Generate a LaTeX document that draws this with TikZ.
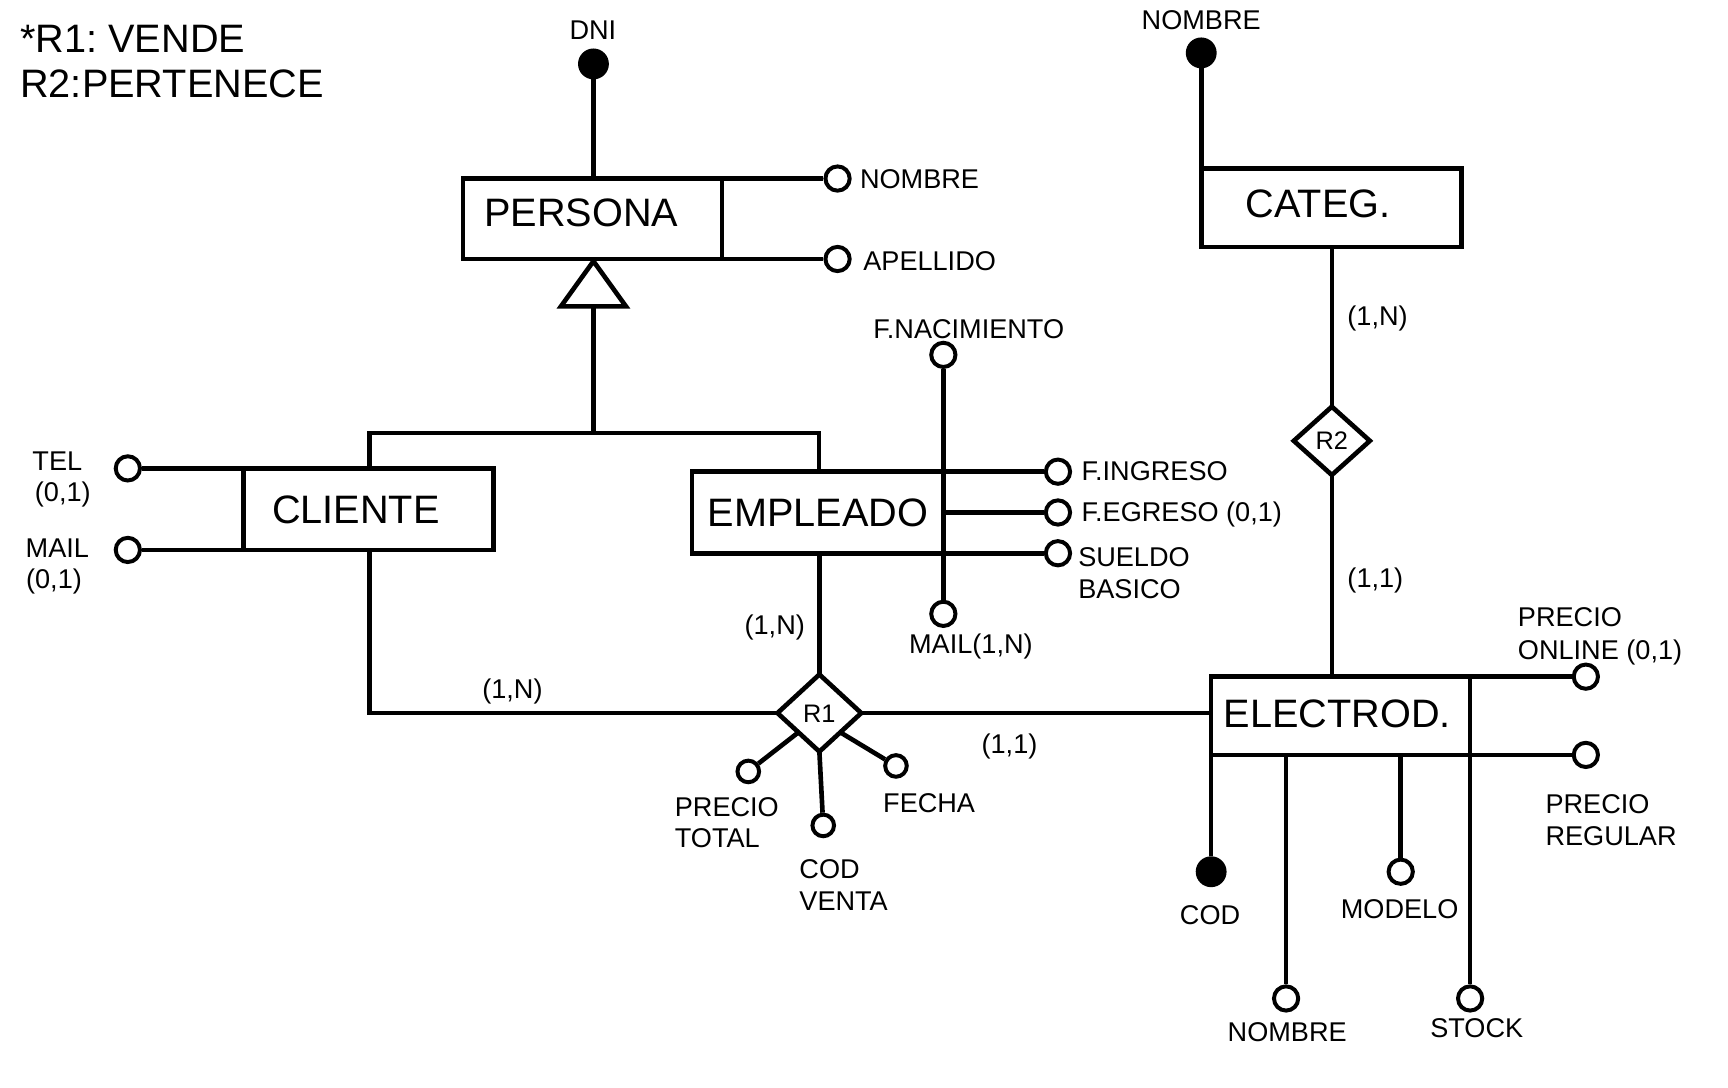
\documentclass[tikz,border=0pt]{standalone}
\usepackage{fontspec}
\setmainfont{Liberation Sans}
\usetikzlibrary{shapes.geometric}
\frenchspacing
\begin{document}
\begin{tikzpicture}[x=0.5pt,y=-0.5pt,
 ln/.style={line width=2.1pt},
 box/.style={draw,line width=2.1pt,rectangle,inner sep=0pt,outer sep=0pt},
 att/.style={circle,draw,fill=white,line width=1.8pt,inner sep=0pt,minimum size=11pt},
 atts/.style={att,minimum size=9.8pt},
 keyd/.style={circle,draw,fill=black,line width=1pt,inner sep=0pt,minimum size=13pt},
 rel/.style={diamond,draw,fill=white,line width=2.1pt,inner sep=0pt,outer sep=0pt},
 lbl/.style={inner sep=0pt,font=\fontsize{12.3pt}{14pt}\selectfont,text height=8.8pt,text depth=0pt},
 big/.style={inner sep=0pt,font=\fontsize{18pt}{21pt}\selectfont,text height=12.9pt,text depth=0pt},
 rlbl/.style={font=\fontsize{11.5pt}{13pt}\selectfont,text height=8.2pt,text depth=0pt}
]
\useasboundingbox[fill=white] (0,0) rectangle (1568,987);

% legend
\node[big,anchor=west] (leg1) at (18,35) {*R1: VENDE};
\node[big,anchor=west] (leg2) at (18,76) {R2:PERTENECE};

% entities
\node[box,minimum width=117.5pt,minimum height=36.5pt] (persona) at (537.5,198.5) {};
\node[big,anchor=west] (personaT) at (439,193) {PERSONA};
\node[box,minimum width=113.5pt,minimum height=37pt] (cliente) at (334.5,462) {};
\node[big,anchor=west] (clienteT) at (246.5,462) {CLIENTE};
\node[box,minimum width=114pt,minimum height=37pt] (empleado) at (742,465) {};
\node[big,anchor=west] (empleadoT) at (642,465) {EMPLEADO};
\node[box,minimum width=118pt,minimum height=35.5pt] (categ) at (1208,188.5) {};
\node[big,anchor=west] (categT) at (1130,184) {CATEG.};
\node[box,minimum width=117.5pt,minimum height=35.5pt] (electrod) at (1216.5,649.5) {};
\node[big,anchor=west] (electrodT) at (1110,647) {ELECTROD.};

% relationships
\node[rel,minimum width=38pt,minimum height=35pt,rlbl] (r1) at (743.5,647) {R1};
\node[rel,minimum width=34.5pt,minimum height=31pt,rlbl] (r2) at (1208.5,400) {R2};

% attributes
\node[keyd] (dni) at (538.5,58) {};
\node[att] (pnom) at (760,162) {};
\node[att] (pape) at (760,235) {};
\node[att] (tel) at (116,425) {};
\node[att] (cmail) at (116,499) {};
\node[att] (fnac) at (856,322) {};
\node[att] (emai) at (856,557) {};
\node[att] (fing) at (960,428) {};
\node[att] (fegr) at (960,465) {};
\node[att] (sueldo) at (960,502) {};
\node[atts] (ptot) at (679,700) {};
\node[atts] (codv) at (747,749) {};
\node[atts] (fecha) at (813,695) {};
\node[keyd] (cnom) at (1090,48) {};
\node[att] (ponl) at (1439,614) {};
\node[att] (preg) at (1439,685) {};
\node[keyd] (cod) at (1099,791) {};
\node[att] (enom) at (1167,906) {};
\node[att] (modelo) at (1271,791) {};
\node[att] (stock) at (1334,906) {};

% ISA triangle and hierarchy
\coordinate (triA) at (538.5,237);
\coordinate (triL) at (509,278);
\coordinate (triR) at (568,278);
\coordinate (triB) at (538.5,278);
\coordinate (isa) at (538.5,393);
\coordinate (clj) at (335,425);
\coordinate (emj) at (743,428);
\coordinate (clb) at (335,499);
\draw[ln,line join=miter] (triA) -- (triR) -- (triL) -- cycle;
\draw[ln] (triB) -- (isa);
\draw[ln] (clj) |- (isa) -| (emj);

% connectors
\draw[ln] (dni) -- (dni |- persona.north);
\draw[ln] (persona.north east) -- (pnom);
\draw[ln] (persona.south east) -- (pape);
\draw[ln] (tel) -- (cliente.north west);
\draw[ln] (cmail) -- (cliente.south west);
\draw[ln] (clb) |- (r1.west);
\draw[ln] (r1.north |- empleado.south) -- (r1.north);
\draw[ln] (empleado.north east) -- (fing);
\draw[ln] (empleado.east) -- (fegr);
\draw[ln] (empleado.south east) -- (sueldo);
\draw[ln] (fnac) -- (emai);
\draw[ln] (r1.east) -- (r1.east -| electrod.west);
\draw[ln] (r1.south west) -- (ptot);
\draw[ln] (r1.south) -- (codv);
\draw[ln] (r1.south east) -- (fecha);
\draw[ln] (cnom) -- (cnom |- categ.north);
\draw[ln] (r2.north |- categ.south) -- (r2.north);
\draw[ln] (r2.south) -- (r2.south |- electrod.north);
\draw[ln] (electrod.north east) -- (ponl);
\draw[ln] (electrod.south east) -- (preg);
\draw[ln] (electrod.north east) -- (stock);
\draw[ln] (electrod.south west) -- (cod);
\draw[ln] (enom |- electrod.south) -- (enom);
\draw[ln] (modelo |- electrod.south) -- (modelo);

% labels
\node[lbl] (tDNI) at (538,27) {DNI};
\node[lbl,anchor=west] (tPnom) at (780,162) {NOMBRE};
\node[lbl,anchor=west] (tPape) at (783,237) {APELLIDO};
\node[lbl] (tTel) at (52,418) {TEL};
\node[lbl] (tTel2) at (57,446) {(0,1)};
\node[lbl] (tMail) at (52,497) {MAIL};
\node[lbl] (tMail2) at (49,525) {(0,1)};
\node[lbl] (tFnac) at (879,298) {F.NACIMIENTO};
\node[lbl,anchor=west] (tFing) at (981,427) {F.INGRESO};
\node[lbl,anchor=west] (tFegr) at (981,464) {F.EGRESO (0,1)};
\node[lbl,anchor=west] (tSue1) at (978,505) {SUELDO};
\node[lbl,anchor=west] (tSue2) at (978,534.5) {BASICO};
\node[lbl] (tEmai) at (881,584) {MAIL(1,N)};
\node[lbl] (tCardE) at (703,567) {(1,N)};
\node[lbl] (tCardC) at (465,625) {(1,N)};
\node[lbl] (tCardEl) at (916,675) {(1,1)};
\node[lbl,anchor=west] (tPt1) at (612,732) {PRECIO};
\node[lbl,anchor=west] (tPt2) at (612,760) {TOTAL};
\node[lbl,anchor=west] (tCv1) at (725,788) {COD};
\node[lbl,anchor=west] (tCv2) at (725,817) {VENTA};
\node[lbl,anchor=west] (tFecha) at (801,728) {FECHA};
\node[lbl] (tCnom) at (1090,18) {NOMBRE};
\node[lbl] (tCardR2a) at (1250,287) {(1,N)};
\node[lbl] (tCardR2b) at (1248,524) {(1,1)};
\node[lbl,anchor=west] (tPo1) at (1377,560) {PRECIO};
\node[lbl,anchor=west] (tPo2) at (1377,590) {ONLINE (0,1)};
\node[lbl,anchor=west] (tPr1) at (1402,729) {PRECIO};
\node[lbl,anchor=west] (tPr2) at (1402,758) {REGULAR};
\node[lbl] (tCod) at (1098,830) {COD};
\node[lbl] (tModelo) at (1270,825) {MODELO};
\node[lbl] (tEnom) at (1168,936) {NOMBRE};
\node[lbl] (tStock) at (1340,933) {STOCK};
\end{tikzpicture}
\end{document}
